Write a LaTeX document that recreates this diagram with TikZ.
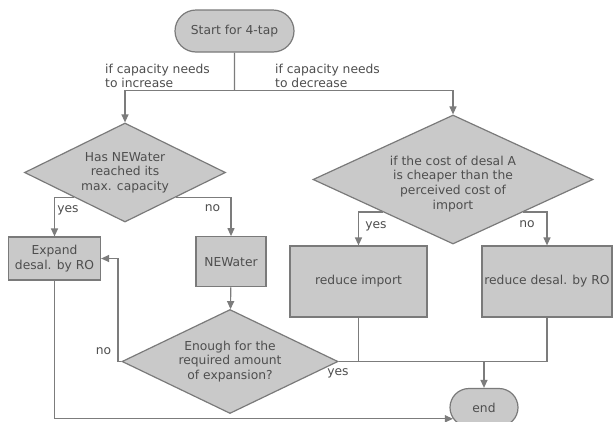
\documentclass[tikz,border=0pt]{standalone}
\usepackage{fontspec}
\setmainfont{DejaVu Sans}
\usetikzlibrary{shapes.geometric,shapes.misc,arrows.meta}
\definecolor{boxfill}{HTML}{C9C9C9}
\definecolor{boxline}{HTML}{7A7A7A}
\definecolor{conn}{HTML}{7C7C7C}
\definecolor{txt}{HTML}{4E4E4E}
\tikzset{
  base/.style={draw=boxline, fill=boxfill, line width=1.2pt, text=txt, inner sep=0pt, align=center,
    font=\fontsize{12.3}{14.5}\selectfont},
  terminal/.style={base, rounded rectangle},
  procbox/.style={base, rectangle},
  decision/.style={base, diamond},
  conn/.style={draw=conn, line width=1.2pt},
  arr/.style={conn, -{Triangle[length=8pt,width=7pt]}},
  lbl/.style={text=txt, inner sep=0pt, font=\fontsize{12.3}{14}\selectfont}
}
\begin{document}
\begin{tikzpicture}[x=1pt, y=-1pt]
\useasboundingbox[fill=white] (0,0) rectangle (613,421);
% nodes
\node[terminal, minimum width=119pt, minimum height=42pt] (start) at (234.5,31) {Start for 4-tap};
\node[decision, aspect=2.03, minimum width=201pt, minimum height=99pt] (d1) at (125,172.5) {Has NEWater\\reached its\\max. capacity};
\node[decision, aspect=2.17, minimum width=280pt, minimum height=129pt] (d2) at (453,179.5) {};
\node[lbl, align=center, font=\fontsize{12.3}{14.8}\selectfont] (d2t) at (453,184) {if the cost of desal A\\is cheaper than the\\perceived cost of\\import};
\node[procbox, minimum width=92pt, minimum height=43pt] (expand) at (54.5,258.5) {Expand\\desal. by RO};
\node[procbox, minimum width=70pt, minimum height=50pt] (newater) at (231,261.7) {NEWater};
\node[procbox, minimum width=137pt, minimum height=71pt] (ri) at (358.5,281.5) {reduce import};
\node[procbox, minimum width=130pt, minimum height=71pt] (rd) at (547,281.5) {reduce desal. by RO};
\node[decision, aspect=2.08, minimum width=216pt, minimum height=104pt] (enough) at (230,361.5) {Enough for the\\required amount\\of expansion?};
\node[terminal, minimum width=68pt, minimum height=38pt] (end) at (484,407.5) {end};
% labels
\node[lbl, anchor=west, align=left] (l1) at (105,76) {if capacity needs\\to increase};
\node[lbl, anchor=west, align=left] (l2) at (275,76) {if capacity needs\\to decrease};
\node[lbl] (y1) at (68,210) {yes};
\node[lbl] (n1) at (212.5,208) {no};
\node[lbl] (y2) at (376,226) {yes};
\node[lbl] (n2) at (527,224) {no};
\node[lbl] (n3) at (103.5,351) {no};
\node[lbl] (y3) at (338,373) {yes};
% connectors
\coordinate (split) at (234.5,90.7);
\draw[conn] (start) -- (split);
\draw[arr] (split) -| (d1);
\draw[arr] (split) -| (d2);
\draw[arr] (d1.south west) -| (expand);
\draw[arr] (d1.south east) -| (newater);
\draw[arr] (d2.south west) -| (ri);
\draw[arr] (d2.south east) -| (rd);
\draw[arr] (newater) -- (enough);
\coordinate (nocorner) at (118,361.5);
\draw[arr] (enough.west) -- (nocorner) |- (expand.east);
\coordinate (merge) at (enough.east -| end.north);
\draw[conn] (ri.south) |- (merge);
\draw[conn] (rd.south) |- (merge);
\draw[conn] (enough.east) -- (merge);
\draw[arr] (merge) -- (end);
\draw[arr] (expand.south) |- (end.-160);
\end{tikzpicture}
\end{document}
